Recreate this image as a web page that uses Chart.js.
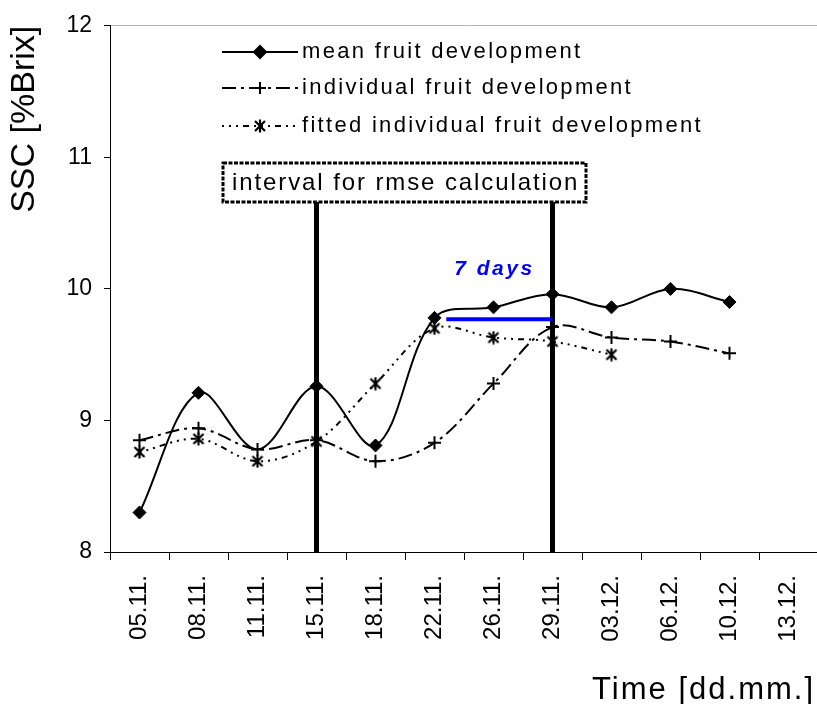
<!DOCTYPE html>
<html>
<head>
<meta charset="utf-8">
<script src="https://cdn.jsdelivr.net/npm/chart.js@4.4.1/dist/chart.umd.min.js"></script>
<style>
  html, body { margin: 0; padding: 0; background: #fff; overflow: hidden; }
  #wrap { width: 817px; height: 704px; overflow: hidden; }
</style>
</head>
<body>
<!-- the plot runs a few pixels past the right edge of the page, so the canvas is wider and clipped -->
<div id="wrap"><canvas id="sscChart" width="827" height="704"></canvas></div>
<script>
const dates = ['05.11.', '08.11.', '11.11.', '15.11.', '18.11.', '22.11.', '26.11.', '29.11.', '03.12.', '06.12.', '10.12.', '13.12.'];
const meanSSC = [8.30, 9.21, 8.78, 9.26, 8.81, 9.78, 9.86, 9.96, 9.86, 10.00, 9.90, null];
const individualSSC = [8.85, 8.94, 8.78, 8.85, 8.69, 8.83, 9.28, 9.71, 9.63, 9.60, 9.51, null];
const fittedSSC = [8.76, 8.86, 8.69, 8.84, 9.28, 9.70, 9.63, 9.60, 9.50, null, null, null];
const yTicks = [8, 9, 10, 11, 12];
const rmseInterval = ['15.11.', '29.11.'];
const sevenDaysSpan = ['22.11.', '29.11.'];
const sevenDaysLevel = 9.77;

const family = '"Liberation Sans", Arial, Helvetica, sans-serif';

// excel-style star marker: an X with a vertical stroke through it
function starMarker(size) {
  const c = document.createElement('canvas');
  c.width = c.height = size;
  const g = c.getContext('2d');
  g.strokeStyle = '#000';
  g.lineWidth = 2.2;
  g.beginPath();
  g.moveTo(2, 2); g.lineTo(size - 2, size - 2);
  g.moveTo(size - 2, 2); g.lineTo(2, size - 2);
  g.moveTo(size / 2, 0.5); g.lineTo(size / 2, size - 0.5);
  g.stroke();
  return c;
}
const star = starMarker(14);

function spacedText(ctx, text, x, y, font, spacing, color, align) {
  ctx.save();
  ctx.font = font;
  ctx.fillStyle = color;
  ctx.textAlign = align || 'left';
  ctx.textBaseline = 'middle';
  if ('letterSpacing' in ctx) ctx.letterSpacing = spacing + 'px';
  ctx.fillText(text, x, y);
  ctx.restore();
}

// fixed pixel layout of the legend and the interval box
const legendBox = { x0: 222, x1: 298, textX: 302, rows: [52, 88, 126] };
const rmseBox = { left: 223, top: 163, right: 586, bottom: 202 };

const annotations = {
  id: 'annotations',
  beforeDatasetsDraw(chart) {
    const { ctx, chartArea, scales: { x } } = chart;
    ctx.save();
    ctx.strokeStyle = '#000';
    ctx.lineWidth = 5;
    rmseInterval.forEach(d => {
      const px = x.getPixelForValue(dates.indexOf(d));
      ctx.beginPath();
      ctx.moveTo(px, rmseBox.bottom);
      ctx.lineTo(px, chartArea.bottom);
      ctx.stroke();
    });
    ctx.restore();
  },
  afterDatasetsDraw(chart) {
    const { ctx, scales: { x, y } } = chart;
    const x0 = x.getPixelForValue(dates.indexOf(sevenDaysSpan[0]) + 0.2);
    const x1 = x.getPixelForValue(dates.indexOf(sevenDaysSpan[1]));
    const py = y.getPixelForValue(sevenDaysLevel);
    ctx.save();
    ctx.strokeStyle = '#0000ff';
    ctx.lineWidth = 4;
    ctx.beginPath();
    ctx.moveTo(x0, py);
    ctx.lineTo(x1, py);
    ctx.stroke();
    ctx.restore();
    spacedText(ctx, '7 days', (x0 + x1) / 2 - 5, py - 50, 'italic bold 21px ' + family, 2.5, '#0000ff', 'center');
  },
  afterDraw(chart) {
    const { ctx } = chart;
    // legend
    chart.data.datasets.forEach((ds, i) => {
      const ly = legendBox.rows[i];
      ctx.save();
      ctx.strokeStyle = '#000';
      ctx.fillStyle = '#000';
      ctx.lineWidth = 2;
      ctx.setLineDash(ds.borderDash || []);
      ctx.beginPath();
      ctx.moveTo(legendBox.x0, ly);
      ctx.lineTo(legendBox.x1, ly);
      ctx.stroke();
      ctx.setLineDash([]);
      Chart.helpers.drawPoint(ctx, {
        pointStyle: ds.pointStyle,
        radius: ds.legendRadius,
        borderWidth: ds.pointBorderWidth,
        rotation: 0
      }, (legendBox.x0 + legendBox.x1) / 2, ly);
      ctx.restore();
      spacedText(ctx, ds.label, legendBox.textX, ly, '22px ' + family, 2.3, '#000', 'left');
    });

    // interval box
    ctx.save();
    ctx.fillStyle = '#fff';
    ctx.fillRect(rmseBox.left, rmseBox.top, rmseBox.right - rmseBox.left, rmseBox.bottom - rmseBox.top);
    ctx.strokeStyle = '#000';
    ctx.lineWidth = 3;
    ctx.setLineDash([4, 1.5]);
    ctx.strokeRect(rmseBox.left, rmseBox.top, rmseBox.right - rmseBox.left, rmseBox.bottom - rmseBox.top);
    ctx.restore();
    spacedText(ctx, 'interval for rmse calculation', rmseBox.left + 9, (rmseBox.top + rmseBox.bottom) / 2 + 1,
      '24px ' + family, 1.9, '#000', 'left');

    // x axis title
    spacedText(ctx, 'Time [dd.mm.]', 815, 690, '31px ' + family, 2, '#000', 'right');
  }
};

new Chart(document.getElementById('sscChart'), {
  type: 'line',
  data: {
    labels: dates,
    datasets: [
      {
        label: 'mean fruit development',
        data: meanSSC,
        borderColor: '#000',
        borderWidth: 2,
        tension: 0.35,
        pointStyle: 'rectRot',
        pointRadius: [6.5, 6.5, 0, 6.5, 6.5, 6.5, 6.5, 6.5, 6.5, 6.5, 6.5, 6.5],
        legendRadius: 6,
        pointBorderWidth: 1,
        pointBackgroundColor: '#000',
        pointBorderColor: '#000'
      },
      {
        label: 'individual fruit development',
        data: individualSSC,
        borderColor: '#000',
        borderWidth: 2,
        borderDash: [14, 5, 3, 5],
        tension: 0.35,
        pointStyle: 'cross',
        pointRadius: 6.5,
        legendRadius: 6,
        pointBorderWidth: 2,
        pointBorderColor: '#000'
      },
      {
        label: 'fitted individual fruit development',
        data: fittedSSC,
        borderColor: '#000',
        borderWidth: 2,
        borderDash: [2, 5, 2, 5, 2, 5, 6, 5],
        tension: 0.35,
        pointStyle: star,
        pointRadius: 7,
        legendRadius: 7,
        pointBorderWidth: 2,
        pointBorderColor: '#000'
      }
    ]
  },
  options: {
    responsive: false,
    animation: false,
    layout: { padding: { top: 21, right: 0, left: 0, bottom: 0 } },
    plugins: {
      legend: { display: false },
      tooltip: { enabled: false }
    },
    scales: {
      x: {
        offset: true,
        grid: { display: true, drawOnChartArea: false, offset: true, color: '#000', tickColor: '#000', tickLength: 8 },
        border: { display: true, color: '#000', width: 1 },
        ticks: {
          autoSkip: false, maxRotation: 90, minRotation: 90, padding: 15,
          color: '#000', font: { size: 24, family: family }
        },
        afterFit: s => {
          s.height = 152;
          s.paddingLeft = 0;
          s.paddingRight = 0;
        }
      },
      y: {
        min: 8,
        max: 12,
        afterBuildTicks: s => { s.ticks = yTicks.map(v => ({ value: v })); },
        grid: {
          drawOnChartArea: true,
          color: c => (c.tick && c.tick.value === 12 ? '#b4b4b4' : 'rgba(0,0,0,0)'),
          tickColor: '#000',
          tickLength: 6
        },
        border: { display: true, color: '#000', width: 1 },
        ticks: { color: '#000', padding: 12, font: { size: 23, family: family } },
        title: {
          display: true, text: 'SSC [%Brix]', align: 'end', color: '#000',
          font: { size: 34, family: family, lineHeight: 1 }, padding: { top: 8, bottom: 0 }
        },
        afterFit: s => { s.width = 110; }
      }
    }
  },
  plugins: [annotations]
});
</script>
</body>
</html>
